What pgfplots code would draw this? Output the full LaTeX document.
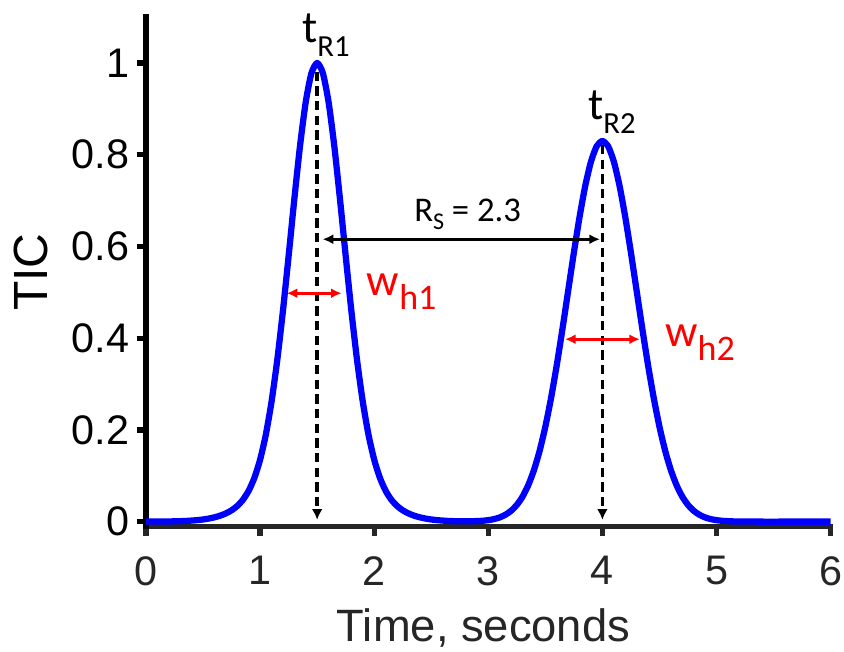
\documentclass[border=0pt]{standalone}
\usepackage{fontspec}
\setmainfont{Liberation Sans}
\newfontfamily\calib{Carlito}
\usepackage{pgfplots}
\pgfplotsset{compat=1.18}
\usetikzlibrary{arrows.meta}
\definecolor{axgray}{RGB}{38,38,38}
\definecolor{pblue}{RGB}{0,0,255}
\definecolor{pred}{RGB}{255,0,0}

\pgfplotstableread{
x y
0 0
0.1 0.0002
0.2 0.0004
0.3 0.0010
0.35 0.0015
0.4 0.0023
0.45 0.0033
0.5 0.0047
0.55 0.0067
0.6 0.0094
0.65 0.0130
0.7 0.0179
0.75 0.0247
0.8 0.0342
0.85 0.0478
0.9 0.0674
0.95 0.0955
1.0 0.1351
1.05 0.1894
1.1 0.2612
1.15 0.3516
1.2 0.4593
1.25 0.5793
1.3 0.7032
1.35 0.8194
1.4 0.9150
1.45 0.9780
1.5 1.0000
1.55 0.9780
1.6 0.9150
1.65 0.8194
1.7 0.7032
1.75 0.5793
1.8 0.4593
1.85 0.3516
1.9 0.2612
1.95 0.1894
2.0 0.1351
2.05 0.0955
2.1 0.0674
2.15 0.0478
2.2 0.0342
2.25 0.0247
2.3 0.0179
2.35 0.0130
2.4 0.0094
2.45 0.0067
2.5 0.0047
2.55 0.0033
2.6 0.0023
2.65 0.0015
2.7 0.0010
2.8 0.0007
2.9 0.0012
2.95 0.0019
3.0 0.0032
3.05 0.0055
3.1 0.0092
3.15 0.0150
3.2 0.0237
3.25 0.0365
3.3 0.0545
3.35 0.0794
3.4 0.1123
3.45 0.1546
3.5 0.2070
3.55 0.2695
3.6 0.3412
3.65 0.4203
3.7 0.5034
3.75 0.5865
3.8 0.6646
3.85 0.7325
3.9 0.7851
3.95 0.8186
4.0 0.8300
4.05 0.8186
4.1 0.7851
4.15 0.7325
4.2 0.6646
4.25 0.5865
4.3 0.5034
4.35 0.4203
4.4 0.3412
4.45 0.2695
4.5 0.2070
4.55 0.1546
4.6 0.1123
4.65 0.0794
4.7 0.0545
4.75 0.0365
4.8 0.0237
4.85 0.0150
4.9 0.0092
4.95 0.0055
5.0 0.0032
5.05 0.0018
5.1 0.0010
5.15 0.0005
5.2 0.0003
5.3 0.0001
5.4 0
5.6 0
5.8 0
6.0 0
}\tic

\begin{document}
\begin{tikzpicture}
\begin{axis}[
  scale only axis, width=513.45pt, height=382pt,
  xmin=0, xmax=6, ymin=-0.0105, ymax=1.1,
  axis x line=bottom, axis y line=left,
  x axis line style={-, line width=4pt, color=axgray, line cap=rect},
  y axis line style={-, line width=4pt, color=black, line cap=rect},
  tick align=outside,
  major tick length=7pt,
  xtick={0,1,2,3,4,5,6},
  ytick={0,0.2,0.4,0.6,0.8,1},
  yticklabels={0,0.2,0.4,0.6,0.8,1},
  xtick style={line width=4pt, color=axgray},
  ytick style={line width=4pt, color=black},
  /pgf/number format/assume math mode=true,
  ticklabel style={font=\fontsize{31}{31}\selectfont},
  xticklabel style={color=axgray, yshift=-12pt},
  yticklabel style={xshift=-2pt},
  clip=false,
  xlabel={Time, seconds}, ylabel={TIC},
  xlabel style={font=\fontsize{34}{34}\selectfont, color=axgray, at={(axis description cs:0.493,-0.2267)}, anchor=base, inner sep=0pt},
  ylabel style={font=\fontsize{36}{36}\selectfont, at={(axis description cs:-0.1687,0.4993)}, anchor=center, inner sep=0pt},
]
\addplot[pblue, line width=4.7pt, smooth, tension=0.4, line join=round] table[x=x,y=y] {\tic};

\draw[line width=2.5pt, dash pattern=on 7pt off 4pt, -{Latex[length=8pt,width=8pt]}] (axis cs:1.5,0.981) -- (axis cs:1.5,0.004);
\draw[line width=2.5pt, dash pattern=on 7pt off 4pt, -{Latex[length=8pt,width=8pt]}] (axis cs:4.0,0.821) -- (axis cs:4.0,0.004);
\draw[line width=2.2pt, {Latex[length=8pt,width=7.5pt]}-{Latex[length=8pt,width=7.5pt]}] (axis cs:1.548,0.6157) -- (axis cs:3.979,0.6157);
\draw[pred, line width=2.2pt, {Latex[length=8pt,width=7.5pt]}-{Latex[length=8pt,width=7.5pt]}] (axis cs:1.233,0.498) -- (axis cs:1.715,0.498);
\draw[pred, line width=2.2pt, {Latex[length=8pt,width=7.5pt]}-{Latex[length=8pt,width=7.5pt]}] (axis cs:3.672,0.3977) -- (axis cs:4.329,0.3977);

\node[anchor=base west, inner sep=0pt] at (axis cs:1.367,1.0436) {\calib\fontsize{34}{34}\selectfont t\raisebox{-10.5pt}{\fontsize{23}{23}\selectfont R1}};
\node[anchor=base west, inner sep=0pt] at (axis cs:3.874,0.8778) {\calib\fontsize{34}{34}\selectfont t\raisebox{-10.5pt}{\fontsize{23}{23}\selectfont R2}};
\node[anchor=base west, inner sep=0pt] at (axis cs:2.349,0.654) {\calib\fontsize{26}{26}\selectfont R\raisebox{-6pt}{\fontsize{18}{18}\selectfont S} = 2.3};
\node[pred, anchor=base west, inner sep=0pt] at (axis cs:1.934,0.492) {\calib\fontsize{34}{34}\selectfont w\raisebox{-10.5pt}{\fontsize{27}{27}\selectfont h1}};
\node[pred, anchor=base west, inner sep=0pt] at (axis cs:4.549,0.3815) {\calib\fontsize{34}{34}\selectfont w\raisebox{-10.5pt}{\fontsize{27}{27}\selectfont h2}};

\coordinate (bl) at (axis cs:-1.2796,-0.2841);
\coordinate (tr) at (axis cs:6.1174,1.1373);
\end{axis}
\pgfresetboundingbox
\useasboundingbox (bl) rectangle (tr);
\end{tikzpicture}
\end{document}
